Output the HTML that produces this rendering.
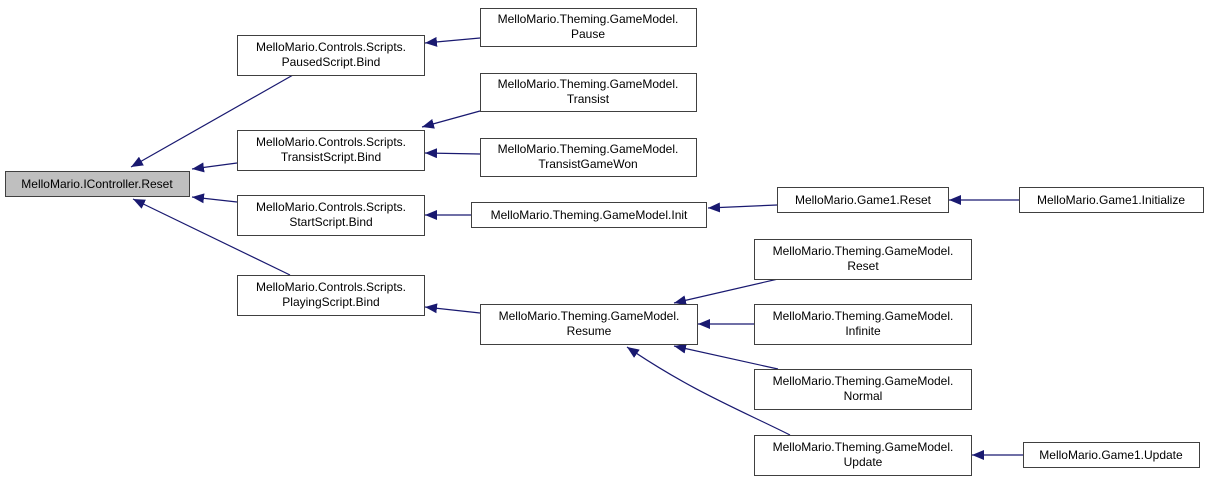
<!DOCTYPE html>
<html><head><meta charset="utf-8"><style>
body{margin:0;background:#fff;width:1205px;height:481px;overflow:hidden}
svg text{font-family:"Liberation Sans",Arial,sans-serif;font-size:12px;fill:#000}
</style></head><body>
<svg width="1205" height="481" xmlns="http://www.w3.org/2000/svg">
<defs><marker id="a" markerWidth="13" markerHeight="10" refX="12" refY="5" orient="auto" markerUnits="userSpaceOnUse">
<path d="M0,0 L12,5 L0,10 Z" fill="#191970"/></marker></defs>
<g stroke="#191970" stroke-width="1.2" fill="none">
<line x1="293" y1="75" x2="131" y2="167" marker-end="url(#a)"/>
<line x1="237" y1="163" x2="192" y2="169" marker-end="url(#a)"/>
<line x1="237" y1="202" x2="192" y2="197" marker-end="url(#a)"/>
<line x1="290" y1="275" x2="133" y2="199" marker-end="url(#a)"/>
<line x1="480" y1="38" x2="425" y2="43" marker-end="url(#a)"/>
<line x1="480" y1="111" x2="422" y2="127" marker-end="url(#a)"/>
<line x1="480" y1="154" x2="425" y2="153" marker-end="url(#a)"/>
<line x1="472" y1="215" x2="425" y2="215" marker-end="url(#a)"/>
<line x1="480" y1="313" x2="425" y2="307" marker-end="url(#a)"/>
<line x1="777" y1="205" x2="708" y2="208" marker-end="url(#a)"/>
<line x1="1019" y1="200" x2="949" y2="200" marker-end="url(#a)"/>
<line x1="778" y1="279" x2="674" y2="303" marker-end="url(#a)"/>
<line x1="754" y1="324" x2="698" y2="324" marker-end="url(#a)"/>
<line x1="778" y1="369" x2="674" y2="346" marker-end="url(#a)"/>
<path d="M790,435 C740,410 690,390 627,347" marker-end="url(#a)"/>
<line x1="1023" y1="455" x2="972" y2="455" marker-end="url(#a)"/>
</g>
<g stroke="#404040" stroke-width="1" fill="#fff">
<rect x="5.5" y="171.5" width="184" height="25" fill="#bfbfbf"/>
<rect x="237.5" y="35.5" width="187" height="40"/>
<rect x="237.5" y="130.5" width="187" height="40"/>
<rect x="237.5" y="195.5" width="187" height="40"/>
<rect x="237.5" y="275.5" width="187" height="40"/>
<rect x="480.5" y="8.5" width="216" height="38"/>
<rect x="480.5" y="73.5" width="216" height="38"/>
<rect x="480.5" y="138.5" width="216" height="38"/>
<rect x="471.5" y="202.5" width="235" height="25"/>
<rect x="480.5" y="304.5" width="217" height="40"/>
<rect x="777.5" y="187.5" width="171" height="25"/>
<rect x="1019.5" y="187.5" width="184" height="25"/>
<rect x="754.5" y="239.5" width="217" height="40"/>
<rect x="754.5" y="304.5" width="217" height="40"/>
<rect x="754.5" y="369.5" width="217" height="40"/>
<rect x="754.5" y="435.5" width="217" height="40"/>
<rect x="1023.5" y="442.5" width="176" height="25"/>
</g>
<g text-anchor="middle">
<text x="97" y="188">MelloMario.IController.Reset</text>
<text x="331" y="51">MelloMario.Controls.Scripts.</text><text x="331" y="66">PausedScript.Bind</text>
<text x="331" y="146">MelloMario.Controls.Scripts.</text><text x="331" y="161">TransistScript.Bind</text>
<text x="331" y="211">MelloMario.Controls.Scripts.</text><text x="331" y="226">StartScript.Bind</text>
<text x="331" y="291">MelloMario.Controls.Scripts.</text><text x="331" y="306">PlayingScript.Bind</text>
<text x="588" y="23">MelloMario.Theming.GameModel.</text><text x="588" y="38">Pause</text>
<text x="588" y="88">MelloMario.Theming.GameModel.</text><text x="588" y="103">Transist</text>
<text x="588" y="153">MelloMario.Theming.GameModel.</text><text x="588" y="168">TransistGameWon</text>
<text x="589" y="219">MelloMario.Theming.GameModel.Init</text>
<text x="589" y="320">MelloMario.Theming.GameModel.</text><text x="589" y="335">Resume</text>
<text x="863" y="204">MelloMario.Game1.Reset</text>
<text x="1111" y="204">MelloMario.Game1.Initialize</text>
<text x="863" y="255">MelloMario.Theming.GameModel.</text><text x="863" y="270">Reset</text>
<text x="863" y="320">MelloMario.Theming.GameModel.</text><text x="863" y="335">Infinite</text>
<text x="863" y="385">MelloMario.Theming.GameModel.</text><text x="863" y="400">Normal</text>
<text x="863" y="451">MelloMario.Theming.GameModel.</text><text x="863" y="466">Update</text>
<text x="1111" y="459">MelloMario.Game1.Update</text>
</g>
</svg>
</body></html>
